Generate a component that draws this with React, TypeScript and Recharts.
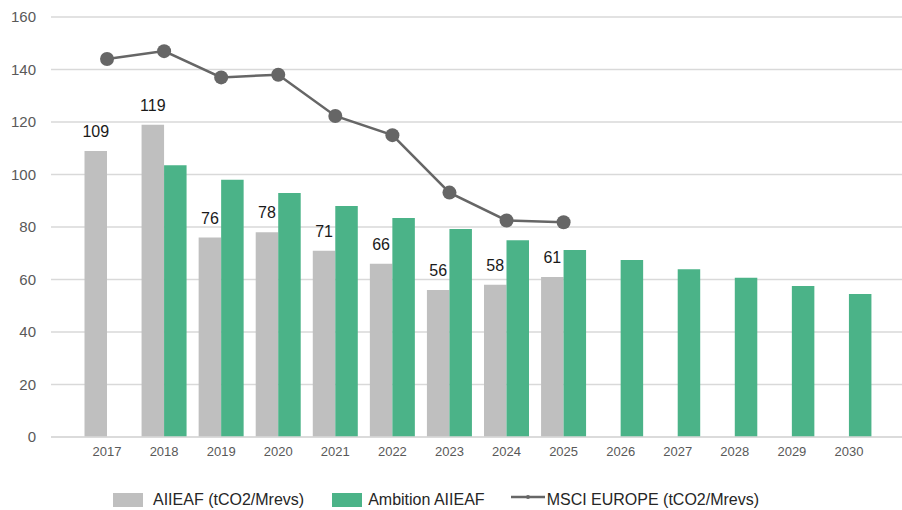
import React from 'react';
import { ComposedChart, Bar, Line, XAxis, YAxis, CartesianGrid, Legend, LabelList } from 'recharts';

const years = ['2017', '2018', '2019', '2020', '2021', '2022', '2023', '2024', '2025', '2026', '2027', '2028', '2029', '2030'];
const aiieaf: (number | null)[] = [109, 119, 76, 78, 71, 66, 56, 58, 61, null, null, null, null, null];
const ambition: (number | null)[] = [null, 103.5, 98, 93, 88, 83.4, 79.2, 75, 71.2, 67.4, 63.9, 60.7, 57.5, 54.5];
const msci: (number | null)[] = [144, 147, 137, 138, 122.3, 115, 93.1, 82.5, 81.8, null, null, null, null, null];
const yTicks = [0, 20, 40, 60, 80, 100, 120, 140, 160];

const seriesNames = {
  aiieaf: 'AIIEAF (tCO2/Mrevs)',
  ambition: 'Ambition AIIEAF',
  msci: 'MSCI EUROPE (tCO2/Mrevs)',
};

const GRAY = '#BFBFBF';
const GREEN = '#4BB388';
const LINE = '#666666';

const data = years.map((y, i) => ({
  year: y,
  aiieaf: aiieaf[i],
  ambition: ambition[i],
  msci: msci[i],
}));

const LegendContent = (props: any) => {
  const payload = props.payload || [];
  const find = (k: string) => payload.find((p: any) => p.dataKey === k) || {};
  const a = find('aiieaf');
  const b = find('ambition');
  const c = find('msci');
  const textStyle: React.CSSProperties = { fontSize: 16, lineHeight: '16px', color: '#262626', whiteSpace: 'nowrap' };
  return (
    <div style={{ height: 26, position: 'relative' }}>
      <div style={{ display: 'flex', alignItems: 'flex-start', paddingTop: 8, paddingLeft: 113 }}>
        <div style={{ width: 30, height: 14, marginTop: 1, background: a.color || GRAY, marginRight: 10 }} />
        <span style={textStyle}>{a.value}</span>
        <div style={{ width: 30, height: 14, marginTop: 1, background: b.color || GREEN, marginLeft: 28, marginRight: 6 }} />
        <span style={textStyle}>{b.value}</span>
        <svg width={34} height={10} style={{ marginLeft: 26, marginRight: 2 }}>
          <line x1={0} y1={5} x2={34} y2={5} stroke={c.color || LINE} strokeWidth={2.5} />
          <circle cx={17} cy={5} r={2} fill={c.color || LINE} />
        </svg>
        <span style={textStyle}>{c.value}</span>
      </div>
    </div>
  );
};

export default function App() {
  return (
    <div style={{ position: 'absolute', left: 0, top: 0, width: 902, height: 510, background: '#fff', fontFamily: '"Liberation Sans", Arial, sans-serif', overflow: 'hidden' }}>
      <ComposedChart
        width={902}
        height={510}
        data={data}
        margin={{ top: 17, right: 0, bottom: 0, left: 0 }}
        barGap={0}
      >
        <CartesianGrid vertical={false} stroke="#D9D9D9" strokeWidth={1.5} />
        <XAxis
          dataKey="year"
          padding={{ left: 27.5, right: 24.5 }}
          tickLine={false}
          tickSize={0}
          tickMargin={10}
          height={47}
          axisLine={{ stroke: '#D9D9D9', strokeWidth: 1.5 }}
          tick={{ fill: '#595959', fontSize: 13 }}
          interval={0}
        />
        <YAxis
          domain={[0, 160]}
          ticks={yTicks}
          width={51}
          tickLine={false}
          axisLine={false}
          tickSize={0}
          tickMargin={15}
          tick={{ fill: '#595959', fontSize: 15 }}
          interval={0}
        />
        <Legend verticalAlign="bottom" content={<LegendContent />} wrapperStyle={{ left: 0, bottom: 0, width: 902 }} />
        <Bar dataKey="aiieaf" name={seriesNames.aiieaf} fill={GRAY} barSize={22.5} isAnimationActive={false} legendType="square">
          <LabelList dataKey="aiieaf" position="top" offset={14} style={{ fill: '#1a1a1a', fontSize: 16 }} />
        </Bar>
        <Bar dataKey="ambition" name={seriesNames.ambition} fill={GREEN} barSize={22.5} isAnimationActive={false} legendType="square" />
        <Line
          dataKey="msci"
          name={seriesNames.msci}
          stroke={LINE}
          strokeWidth={2.5}
          dot={{ r: 7, fill: LINE, stroke: LINE, strokeWidth: 0 }}
          activeDot={false}
          isAnimationActive={false}
          legendType="line"
        />
      </ComposedChart>
    </div>
  );
}
